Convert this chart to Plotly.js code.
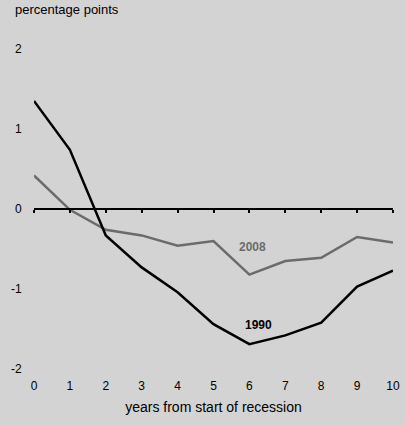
<!DOCTYPE html>
<html>
<head>
<meta charset="utf-8">
<script src="https://cdn.plot.ly/plotly-3.0.1.min.js"></script>
<style>
  html, body { margin: 0; padding: 0; background: #d3d3d3; }
  #chart { width: 405px; height: 426px; }
</style>
</head>
<body>
<div id="chart"></div>
<script>
// years from start of recession
const years = [0, 1, 2, 3, 4, 5, 6, 7, 8, 9, 10];

// percentage points
const rec1990 = [1.35, 0.74, -0.33, -0.73, -1.04, -1.44, -1.69, -1.58, -1.42, -0.97, -0.77];
const rec2008 = [0.42, -0.01, -0.26, -0.33, -0.46, -0.40, -0.82, -0.65, -0.61, -0.35, -0.42];

const yTicks = [-2, -1, 0, 1, 2];
const yTickText = ['-2', '-1', '0', '1', '2'];

const data = [
    {
        x: years, y: rec2008, name: '2008',
        type: 'scatter', mode: 'lines',
        line: { color: '#6b6b6b', width: 2.5 }
    },
    {
        // on the overlaid axis so the zero-line axis gets drawn
        x: years, y: rec1990, name: '1990', xaxis: 'x2',
        type: 'scatter', mode: 'lines',
        line: { color: '#000000', width: 2.5 }
    }
];

const yMin = -2, yMax = 2.25;

const layout = {
    width: 405,
    height: 426,
    paper_bgcolor: '#d3d3d3',
    plot_bgcolor: '#d3d3d3',
    showlegend: false,
    margin: { l: 33.5, r: 11.5, t: 29, b: 57 },
    font: { family: 'Arial, "Liberation Sans", sans-serif', size: 12, color: '#000' },
    xaxis: {
        range: [0, 10],
        tickvals: years,
        showgrid: false, zeroline: false, showline: false,
        ticks: 'outside', ticklen: 6, tickcolor: 'rgba(0,0,0,0)',
        title: { text: 'years from start of recession', standoff: 9 }
    },
    // axis drawn along the zero line with small downward ticks
    xaxis2: {
        overlaying: 'x', anchor: 'free',
        position: (0 - yMin) / (yMax - yMin),
        range: [0, 10],
        tickvals: years,
        showticklabels: false, showgrid: false, zeroline: false,
        showline: true, linecolor: '#000', linewidth: 2,
        ticks: 'outside', ticklen: 3, tickwidth: 2, tickcolor: '#000'
    },
    yaxis: {
        range: [yMin, yMax],
        tickvals: yTicks,
        ticktext: yTickText,
        showgrid: false, zeroline: false, showline: false,
        ticks: 'outside', ticklen: 9, tickcolor: 'rgba(0,0,0,0)'
    },
    annotations: [
        {
            xref: 'paper', yref: 'paper', x: -0.058, y: 1, yshift: 10,
            xanchor: 'left', yanchor: 'bottom', showarrow: false,
            text: 'percentage points', font: { size: 13, color: '#000' }
        },
        {
            x: 6.1, y: -0.475, showarrow: false,
            text: '<b>2008</b>', font: { size: 12, color: '#6b6b6b' }
        },
        {
            x: 6.24, y: -1.45, showarrow: false,
            text: '<b>1990</b>', font: { size: 12, color: '#000' }
        }
    ]
};

Plotly.newPlot('chart', data, layout, { displayModeBar: false, staticPlot: true });
</script>
</body>
</html>
